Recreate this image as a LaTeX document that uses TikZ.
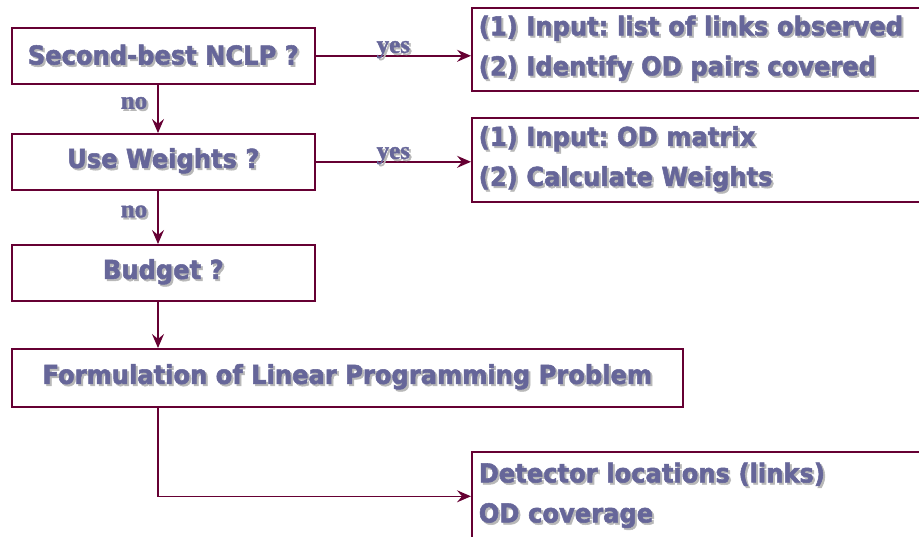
\documentclass[tikz,border=0pt]{standalone}
\usepackage{fontspec}
\usepackage{tikz}
\usepackage{xcolor}
\usetikzlibrary{arrows.meta,positioning,calc}
\newfontfamily\boxfont[FakeStretch=0.93,FakeBold=2]{DejaVu Sans}
\newfontfamily\labelfont[FakeBold=1.5]{Liberation Serif}
\definecolor{Wine}{HTML}{660033}
\definecolor{Lilac}{HTML}{666699}
\definecolor{Shade}{HTML}{B8B8B8}
\newcommand{\shd}[1]{%
  \makebox[0pt][l]{\hspace{2pt}\raisebox{-2pt}{\textcolor{Shade}{#1}}}%
  \textcolor{Lilac}{#1}%
}
\frenchspacing
\tikzset{
  qbox/.style={
    draw=Wine,line width=1.6pt,fill=white,anchor=north west,
    minimum height=56pt,inner sep=0pt,
    font=\boxfont\bfseries\fontsize{26}{40}\selectfont
  },
  infobox/.style={
    draw=Wine,line width=1.6pt,fill=white,anchor=north west,
    minimum width=469pt,text width=455pt,inner xsep=7pt,inner ysep=0pt,
    align=left,font=\boxfont\bfseries\fontsize{26}{40}\selectfont
  },
  arrow/.style={-{Stealth[length=14pt,width=12pt,inset=5pt]},line width=1.6pt,draw=Wine},
  tag/.style={font=\labelfont\bfseries\fontsize{25}{26}\selectfont,text=Lilac,inner sep=0pt}
}
\begin{document}
\begin{tikzpicture}[x=1pt,y=-1pt]
  \clip (0,0) rectangle (919,536);
  % decisions on the left
  \node[qbox,minimum width=303pt] (nclp) at (11,27) {\shd{Second-best NCLP ?}};
  \node[qbox,minimum width=303pt] (weights) at (11,133) {\shd{Use Weights ?}};
  \node[qbox,minimum width=303pt] (budget) at (11,244) {\shd{Budget ?}};
  \node[qbox,minimum width=671pt,minimum height=58pt] (lpp) at (11,348)
    {\shd{Formulation of Linear Programming Problem}};
  % inputs and outputs on the right
  \node[infobox,minimum height=83pt] (links) at (471,7)
    {\shd{(1) Input: list of links observed}\\\shd{(2) Identify OD pairs covered}};
  \node[infobox,minimum height=84pt] (odmat) at (471,117)
    {\shd{(1) Input: OD matrix}\\\shd{(2) Calculate Weights}};
  \node[infobox,minimum height=89pt] (result) at (471,451)
    {\shd{Detector locations (links)}\\\shd{OD coverage}};
  \coordinate (spine) at (158,0);
  % connectors
  \draw[arrow] (nclp.east) -- node[tag,anchor=base,yshift=3pt] {\shd{yes}} (nclp.east -| links.west);
  \draw[arrow] (weights.east) -- node[tag,anchor=base,yshift=3pt] {\shd{yes}} (weights.east -| odmat.west);
  \draw[arrow] (nclp.south -| spine) -- node[tag,anchor=base east,xshift=-10pt] {\shd{no}} (weights.north -| spine);
  \draw[arrow] (weights.south -| spine) -- node[tag,anchor=base east,xshift=-10pt] {\shd{no}} (budget.north -| spine);
  \draw[arrow] (budget.south -| spine) -- (lpp.north -| spine);
  \draw[arrow] (lpp.south -| spine) |- (result.west);
\end{tikzpicture}
\end{document}
